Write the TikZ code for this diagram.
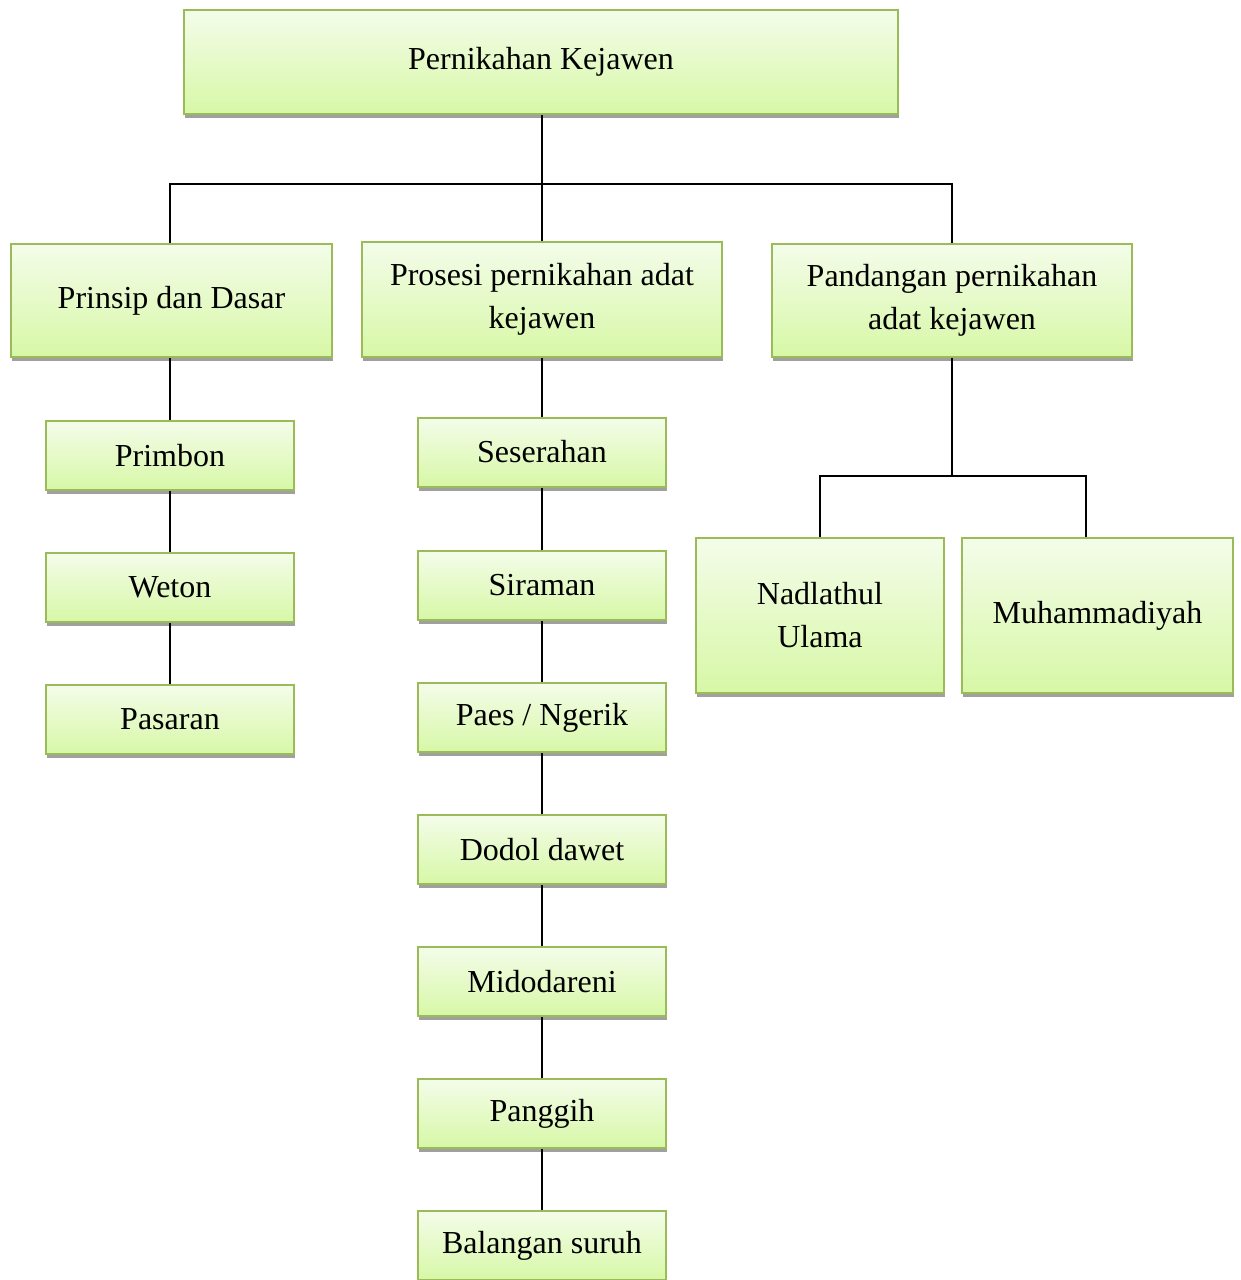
\documentclass[tikz,border=0pt]{standalone}
\usepackage{fontspec}
\setmainfont{Liberation Serif}
\usetikzlibrary{positioning, shadows}
\definecolor{boxline}{HTML}{9BBB59}
\definecolor{boxtop}{HTML}{F4FCEA}
\definecolor{boxbottom}{HTML}{D7F8A6}
\definecolor{boxshadow}{HTML}{A0A0A0}

\tikzset{
  kotak/.style={draw=boxline, line width=1pt, top color=boxtop, bottom color=boxbottom,
    align=center, font=\fontsize{16}{21.5}\selectfont, inner sep=2pt,
    drop shadow={shadow xshift=0.5pt, shadow yshift=-2pt, fill=boxshadow, opacity=1}},
  kecil/.style={kotak, minimum width=124pt, minimum height=34.5pt},
  garis/.style={line width=1pt}
}

\begin{document}
\begin{tikzpicture}[x=0.5pt, y=-0.5pt, node distance=30.5pt and 10pt]
    \useasboundingbox (0,0) rectangle (1241,1280);

    % tingkat atas
    \node [kotak, minimum width=357pt, minimum height=52pt] (induk) at (541,62) {Pernikahan Kejawen};
    \node [kotak, minimum width=160.5pt, minimum height=56.5pt] (prinsip) at (171.5,300.5) {Prinsip dan Dasar};
    \node [kotak, minimum width=180pt, minimum height=57.5pt] (prosesi) at (542,299.5) {Prosesi pernikahan adat\\kejawen};
    \node [kotak, minimum width=180pt, minimum height=56.5pt] (pandangan) at (952,300.5) {Pandangan pernikahan\\adat kejawen};

    % prinsip dan dasar
    \node [kecil] (primbon) at (170,455.5) {Primbon};
    \node [kecil] (weton) [below=of primbon] {Weton};
    \node [kecil] (pasaran) [below=of weton] {Pasaran};

    % prosesi
    \node [kecil] (seserahan) at (542,452) {Seserahan};
    \node [kecil] (siraman) at (542,585.5) {Siraman};
    \node [kecil] (paes) [below=of siraman] {Paes / Ngerik};
    \node [kecil] (dodol) [below=of paes] {Dodol dawet};
    \node [kecil] (midodareni) [below=of dodol] {Midodareni};
    \node [kecil] (panggih) [below=of midodareni] {Panggih};
    \node [kecil] (balangan) [below=of panggih] {Balangan suruh};

    % pandangan
    \node [kotak, minimum width=124pt, minimum height=77.5pt] (nu) at (820,615.5) {Nadlathul\\Ulama};
    \node [kotak, minimum width=135.5pt, minimum height=77.5pt] (muh) at (1097.5,615.5) {Muhammadiyah};

    \coordinate (cabang) at (542,184);
    \coordinate (cabang2) at (952,476);

    \draw [garis] (induk.south -| cabang) -- (cabang);
    \draw [garis] (primbon |- prinsip.north) |- (cabang) -| (pandangan.north);
    \draw [garis] (cabang) -- (prosesi.north -| cabang);

    \draw [garis] (prinsip.south -| primbon) -- (primbon) -- (weton) -- (pasaran);
    \draw [garis] (prosesi) -- (seserahan) -- (siraman) -- (paes) -- (dodol)
        -- (midodareni) -- (panggih) -- (balangan);

    \draw [garis] (pandangan) -- (cabang2);
    \draw [garis] (nu.north) |- (cabang2) -| ([xshift=-5.75pt]muh.north);
\end{tikzpicture}
\end{document}
